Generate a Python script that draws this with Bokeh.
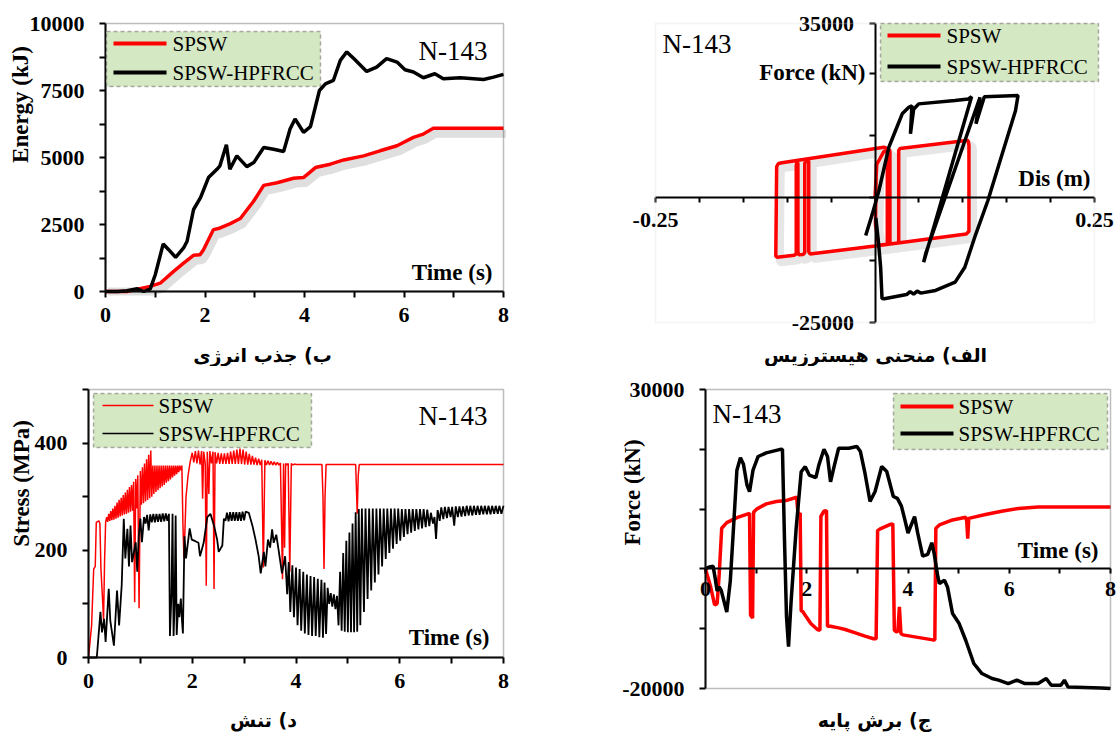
from math import pi
from bokeh.plotting import figure
from bokeh.models import Label, BoxAnnotation, FixedTicker, Range1d
from bokeh.layouts import row, column
from bokeh.embed import file_html
from bokeh.resources import INLINE

# ---------------- data ----------------
SERIES = ["SPSW", "SPSW-HPFRCC"]
TAG = "N-143"
CAPTIONS = ["ب) جذب انرژی", "الف) منحنی هیسترزیس", "د) تنش", "ج) برش پایه"]

# (time s, energy kJ)
energy_spsw = [(0.0, 0), (0.43, 0), (0.9, 190), (1.1, 310), (1.37, 750), (1.57, 1060), (1.77, 1350),
               (1.9, 1375), (1.97, 1560), (2.17, 2310), (2.27, 2350), (2.5, 2525), (2.71, 2725),
               (2.98, 3375), (3.18, 3960), (3.45, 4060), (3.78, 4225), (3.98, 4250), (4.22, 4625),
               (4.52, 4750), (4.79, 4910), (5.19, 5060), (5.52, 5250), (5.86, 5440), (6.19, 5750),
               (6.39, 5875), (6.59, 6090), (8.0, 6090)]
energy_hpfrcc = [(0.0, 0), (0.25, 0), (0.43, 25), (0.64, 100), (0.77, 0), (0.9, 100), (1.0, 625),
                 (1.16, 1775), (1.27, 1560), (1.41, 1275), (1.57, 1625), (1.64, 1875), (1.77, 3060),
                 (1.91, 3500), (2.07, 4250), (2.24, 4560), (2.3, 4690), (2.43, 5475), (2.5, 4560),
                 (2.64, 5060), (2.84, 4660), (2.98, 4810), (3.18, 5375), (3.38, 5310), (3.58, 5225),
                 (3.71, 6060), (3.81, 6440), (3.98, 5940), (4.12, 6150), (4.3, 7500), (4.42, 7750),
                 (4.58, 7875), (4.72, 8625), (4.85, 8940), (4.99, 8690), (5.25, 8210), (5.45, 8375),
                 (5.65, 8690), (5.86, 8560), (6.02, 8275), (6.19, 8190), (6.39, 7975), (6.62, 8125),
                 (6.79, 7940), (7.13, 7975), (7.6, 7910), (7.8, 8000), (8.0, 8100)]

# (displacement m, force kN)
hyst_spsw = [(0.000, 0), (0.002, 6700), (0.010, 9300), (0.0165, 9700), (0.017, 9200), (0.017, -9000),
             (0.0185, -9200), (0.0265, -9050), (0.027, -8500), (0.027, 9500), (0.0285, 9900),
             (0.104, 11500), (0.1063, 11450), (0.107, 10500), (0.107, -6700), (0.104, -7250),
             (0.000, -9650), (-0.074, -11250), (-0.0755, -10800), (-0.0755, 7400), (-0.077, 7600),
             (-0.080, 7000), (-0.080, -11000), (-0.082, -11350), (-0.087, -11400), (-0.0878, -10800),
             (-0.0878, 7000), (-0.089, 7100), (-0.0897, 6500), (-0.0897, -11200), (-0.092, -11500),
             (-0.1115, -11900), (-0.113, -11700), (-0.112, 6300), (-0.110, 6900), (-0.106, 7060),
             (0.0101, 10180), (0.013, 10000), (0.014, 9000), (0.014, -9300), (0.004, -9500),
             (0.0005, -5300), (0.0015, 6700), (0.0045, 7500)]
hyst_hpfrcc = [(-0.0106, -7550), (-0.003, -3200), (0.0045, 1490), (0.0158, 10180), (0.0234, 13530),
               (0.031, 16880), (0.0385, 18200), (0.042, 18500), (0.0404, 12860), (0.044, 17800),
               (0.0498, 18870), (0.0912, 19540), (0.1063, 19870), (0.110, 20300), (0.0554, -12900),
               (0.058, -11000), (0.1196, 20210), (0.115, 14900), (0.1245, 20300), (0.1629, 20550),
               (0.160, 17500), (0.1437, 8170), (0.1286, -520), (0.1136, -7880), (0.1023, -13900),
               (0.0913, -16900), (0.069, -18570), (0.052, -19100), (0.048, -18700), (0.044, -19300),
               (0.040, -18800), (0.036, -19400), (0.0106, -20240), (0.008, -20200), (0.0064, -13900),
               (0.004, -9000), (0.001, -4000)]

# (time s, stress MPa)
stress_spsw = [(0.00, 0), (0.06, 60), (0.10, 165), (0.13, 170), (0.15, 252), (0.20, 255), (0.22, 250),
               (0.24, 165), (0.27, 110), (0.29, 70), (0.31, 180), (0.33, 252),
               (0.35, 262), (0.37, 253), (0.39, 268), (0.41, 255), (0.43, 273), (0.45, 256), (0.47, 278),
               (0.49, 257), (0.51, 283), (0.53, 259), (0.55, 289), (0.57, 261), (0.59, 294), (0.61, 263),
               (0.63, 298), (0.65, 265), (0.67, 303), (0.69, 267), (0.71, 308), (0.73, 268), (0.75, 313),
               (0.77, 270), (0.79, 318), (0.81, 272), (0.83, 322), (0.85, 274), (0.87, 328), (0.89, 103),
               (0.91, 333), (0.93, 278), (0.95, 340), (0.975, 92), (1.00, 348), (1.02, 285), (1.04, 355),
               (1.06, 288), (1.08, 362), (1.10, 291), (1.12, 370), (1.14, 294), (1.16, 378), (1.18, 297),
               (1.20, 386), (1.22, 300),
               (1.24, 358), (1.26, 305), (1.28, 358), (1.30, 309), (1.32, 358), (1.34, 312), (1.36, 358),
               (1.38, 316), (1.40, 358), (1.42, 319), (1.44, 358), (1.46, 322), (1.48, 358), (1.50, 326),
               (1.52, 358), (1.54, 329), (1.56, 358), (1.58, 332), (1.60, 358), (1.62, 336), (1.64, 358),
               (1.66, 339), (1.68, 358), (1.70, 342), (1.72, 358), (1.74, 346), (1.76, 358), (1.78, 349),
               (1.80, 358), (1.82, 250), (1.84, 185), (1.86, 240), (1.88, 300), (1.92, 340), (1.96, 365),
               (2.00, 382),
               (2.03, 364), (2.06, 385), (2.09, 362), (2.12, 386), (2.15, 360), (2.18, 385), (2.20, 296),
               (2.22, 384), (2.25, 362), (2.27, 134), (2.29, 384), (2.32, 305), (2.34, 385), (2.37, 362),
               (2.40, 384), (2.42, 128), (2.44, 383), (2.47, 362), (2.50, 382), (2.53, 361), (2.56, 381),
               (2.59, 361), (2.62, 381), (2.65, 361), (2.68, 382), (2.71, 361), (2.74, 384), (2.77, 361),
               (2.80, 386), (2.83, 361), (2.86, 388), (2.89, 361), (2.92, 390), (2.95, 361), (2.98, 388),
               (3.01, 360), (3.04, 384), (3.07, 360), (3.10, 380), (3.13, 360), (3.16, 376), (3.19, 360),
               (3.22, 373), (3.25, 359), (3.28, 371), (3.31, 359), (3.34, 369), (3.37, 168), (3.40, 368),
               (3.43, 359), (3.46, 367), (3.49, 359), (3.52, 366), (3.55, 359), (3.58, 365), (3.61, 359),
               (3.64, 364), (3.67, 359), (3.70, 363), (3.74, 146), (3.76, 362), (3.78, 205), (3.80, 362),
               (3.83, 359), (3.85, 362), (3.88, 160), (3.91, 362), (3.94, 359), (3.97, 361), (4.00, 360),
               (4.50, 360), (4.52, 300), (4.54, 165), (4.56, 300), (4.58, 360), (5.15, 360), (5.17, 300),
               (5.18, 268), (5.20, 340), (5.22, 360), (8.00, 360)]
stress_hpfrcc = [(0.00, 0), (0.16, 0), (0.23, 85), (0.26, 47), (0.30, 72), (0.33, 29), (0.39, 128),
                 (0.42, 69), (0.49, 22), (0.55, 125), (0.59, 60), (0.64, 135), (0.68, 259), (0.71, 185),
                 (0.75, 240), (0.78, 170), (0.81, 246), (0.84, 178), (0.91, 215), (0.94, 160), (0.97, 227),
                 (1.00, 259), (1.03, 215), (1.07, 262),
                 (1.10, 250), (1.13, 266), (1.16, 237), (1.19, 267), (1.22, 252), (1.25, 268), (1.28, 252),
                 (1.31, 268), (1.34, 253), (1.37, 268), (1.40, 253), (1.43, 269), (1.46, 254), (1.49, 269),
                 (1.52, 255), (1.55, 268),
                 (1.57, 40), (1.60, 120), (1.62, 268), (1.64, 40), (1.66, 100), (1.68, 265), (1.70, 42),
                 (1.73, 100), (1.75, 75), (1.78, 110), (1.80, 72), (1.82, 45), (1.85, 226), (1.88, 185),
                 (1.95, 241), (1.99, 220), (2.06, 217), (2.12, 214), (2.15, 189), (2.22, 214), (2.29, 262),
                 (2.35, 268), (2.42, 246), (2.48, 220), (2.51, 197), (2.58, 209), (2.61, 259),
                 (2.64, 255), (2.67, 270), (2.70, 254), (2.73, 271), (2.76, 255), (2.79, 271), (2.82, 255),
                 (2.85, 271), (2.88, 255), (2.91, 271), (2.94, 255), (2.97, 272), (3.00, 256), (3.03, 272),
                 (3.09, 270),
                 (3.16, 246), (3.22, 220), (3.28, 189), (3.32, 157), (3.38, 197), (3.41, 170), (3.46, 220),
                 (3.50, 205), (3.54, 239), (3.57, 214), (3.62, 229), (3.67, 197), (3.73, 157), (3.79, 189),
                 (3.83, 118),
                 (3.86, 178), (3.89, 85), (3.93, 172), (3.96, 75), (4.00, 168), (4.03, 60), (4.07, 165),
                 (4.10, 50), (4.14, 160), (4.17, 45), (4.21, 155), (4.24, 42), (4.28, 152), (4.31, 40),
                 (4.35, 150), (4.38, 40), (4.42, 147), (4.45, 38), (4.49, 145), (4.52, 37), (4.55, 140),
                 (4.58, 44),
                 (4.61, 130), (4.64, 100), (4.67, 120), (4.70, 95), (4.73, 118), (4.76, 90), (4.79, 115),
                 (4.82, 60), (4.85, 160), (4.88, 50), (4.91, 195), (4.94, 48), (4.97, 218), (5.00, 47),
                 (5.03, 233), (5.06, 47), (5.09, 250), (5.12, 47), (5.15, 271), (5.18, 48), (5.21, 277),
                 (5.24, 60), (5.27, 278), (5.31, 85), (5.34, 278), (5.38, 109), (5.41, 278), (5.45, 125),
                 (5.48, 278), (5.52, 140), (5.55, 278), (5.59, 155), (5.62, 278), (5.66, 170), (5.69, 278),
                 (5.73, 184), (5.76, 278), (5.80, 195), (5.83, 278), (5.87, 203), (5.90, 278), (5.94, 212),
                 (5.97, 278), (6.01, 218), (6.04, 277), (6.08, 225), (6.11, 277), (6.15, 230), (6.18, 277),
                 (6.22, 233), (6.25, 277), (6.29, 236), (6.32, 277), (6.36, 239), (6.39, 277), (6.43, 241),
                 (6.46, 277), (6.50, 243), (6.53, 276), (6.57, 245), (6.60, 270), (6.64, 250), (6.67, 262),
                 (6.70, 221), (6.73, 275), (6.77, 255), (6.80, 280), (6.84, 258), (6.87, 281), (6.91, 260),
                 (6.94, 281), (6.98, 262), (7.01, 281), (7.05, 246), (7.08, 282), (7.12, 262), (7.15, 282),
                 (7.19, 263), (7.22, 282), (7.26, 264), (7.29, 283), (7.33, 265), (7.36, 283), (7.40, 265),
                 (7.43, 283), (7.47, 266), (7.50, 283), (7.54, 266), (7.57, 283), (7.61, 267), (7.64, 283),
                 (7.68, 267), (7.71, 283), (7.75, 267), (7.78, 283), (7.82, 268), (7.85, 283), (7.89, 268),
                 (7.92, 283), (7.96, 268), (8.00, 283)]

# (time s, base shear kN)
shear_spsw = [(0.00, 0), (0.10, -2950), (0.18, -6020), (0.23, -5800), (0.27, -1000), (0.32, 6800),
              (0.42, 7740), (0.62, 8580), (0.87, 9300), (0.89, -7700), (0.93, -8240), (0.95, 9470),
              (1.01, 10000), (1.20, 10870), (1.40, 11260), (1.59, 11430), (1.80, 11980), (1.83, 9000),
              (1.87, 9360), (1.89, -7000), (1.92, -7130), (1.99, -8020), (2.08, -9130), (2.21, -10130),
              (2.26, -10250), (2.28, 8800), (2.34, 9640), (2.39, 9750), (2.41, -9580), (2.47, -9580),
              (2.63, -9860), (2.76, -10130), (2.96, -10690), (3.15, -11250), (3.32, -11680),
              (3.37, -11700), (3.40, 6400), (3.45, 6700), (3.64, 7420), (3.70, 7530), (3.73, -10250),
              (3.77, -10530), (3.80, -10400), (3.83, -6360), (3.86, -10800), (3.90, -11030),
              (4.49, -11870), (4.53, -11900), (4.55, 6800), (4.62, 7350), (4.88, 8190), (5.14, 8640),
              (5.16, 8000), (5.18, 5070), (5.20, 8450), (5.53, 9100), (5.85, 9650), (6.18, 10100),
              (6.57, 10370), (8.00, 10370)]
shear_hpfrcc = [(0.00, 0), (0.06, 290), (0.15, 460), (0.19, -1500), (0.23, -3700), (0.27, -3000),
                (0.31, -3600), (0.42, -7200), (0.49, -2000), (0.55, 6400), (0.62, 16500), (0.69, 18600),
                (0.75, 17500), (0.82, 14000), (0.87, 12920), (0.94, 16570), (1.04, 18800), (1.20, 19400),
                (1.46, 19950), (1.52, 20000), (1.56, 5000), (1.60, -8000), (1.64, -13000), (1.69, -5550),
                (1.79, 6690), (1.89, 16250), (1.97, 17100), (2.05, 15700), (2.18, 15250), (2.24, 17400),
                (2.34, 20000), (2.41, 18800), (2.47, 14570), (2.54, 17100), (2.63, 20180), (2.83, 20180),
                (2.99, 20460), (3.06, 19620), (3.15, 16000), (3.25, 11280), (3.35, 12950), (3.48, 17120),
                (3.58, 16290), (3.71, 12110), (3.79, 11800), (3.87, 10500), (3.93, 8500), (4.00, 6000),
                (4.13, 8740), (4.19, 6060), (4.29, 2150), (4.39, 2430), (4.47, 4380), (4.52, 2430),
                (4.59, -1340), (4.62, -2450), (4.72, -1900), (4.78, -3010), (4.88, -7470), (5.01, -9140),
                (5.14, -11930), (5.30, -15820), (5.46, -17500), (5.66, -18330), (5.79, -18600),
                (5.98, -19170), (6.15, -18600), (6.31, -19170), (6.57, -19170), (6.73, -18330),
                (6.83, -19450), (7.02, -19450), (7.09, -18600), (7.16, -19730), (7.81, -19900),
                (8.00, -20000)]

# ---------------- styling ----------------
SERIF = "Liberation Serif"
ARABIC = "DejaVu Sans"
RED = "#ff0000"
BLACK = "#000000"
LEG_FILL = "#d5e8c4"
FRAME_DARK = "#262626"
FRAME_LIGHT = "#d9d9d9"
SHADOW = "#8c8c8c"


def xy(pairs):
    return [a for a, _ in pairs], [b for _, b in pairs]


def make_fig(W, H, rect, xext, yext):
    """Whole canvas is the Bokeh frame; the data box sits at pixel rect (l, t, r, b)."""
    l, t, r, b = rect
    x0, x1 = xext
    y0, y1 = yext
    kx = (x1 - x0) / (r - l)
    ky = (y1 - y0) / (b - t)
    p = figure(width=W, height=H,
               x_range=Range1d(x0 - l * kx, x1 + (W - r) * kx),
               y_range=Range1d(y0 - (H - b) * ky, y1 + t * ky),
               output_backend="svg", toolbar_location=None, min_border=0)
    p.grid.visible = False
    p.outline_line_color = None
    p.background_fill_color = "white"
    p.border_fill_color = "white"
    return p


def frame_box(p, xext, yext, color):
    p.add_layout(BoxAnnotation(left=xext[0], right=xext[1], bottom=yext[0], top=yext[1],
                               fill_color=None, fill_alpha=0, line_color=color, line_width=1.5))


def style_axis(ax, at, bounds, major, minor, standoff, tick=6):
    ax.fixed_location = at
    ax.bounds = bounds
    ax.ticker = FixedTicker(ticks=major, minor_ticks=minor)
    # plain hyphen-minus for negative tick labels, as in the source chart
    ax.major_label_overrides = {v: f"{v:g}" for v in major if v < 0}
    ax.axis_line_color = "black"
    ax.axis_line_width = 2
    ax.major_tick_line_color = "black"
    ax.major_tick_line_width = 2
    ax.minor_tick_line_color = "black"
    ax.minor_tick_line_width = 2
    ax.major_tick_in = 0
    ax.major_tick_out = tick
    ax.minor_tick_in = 0
    ax.minor_tick_out = tick
    ax.major_label_standoff = standoff
    ax.major_label_text_font = SERIF
    ax.major_label_text_font_style = "bold"
    ax.major_label_text_font_size = "22px"
    ax.major_label_text_color = "black"


def txt(p, x, y, text, size, bold=False, font=SERIF, align="left", angle=0.0):
    # x, y measured in canvas pixels from the top-left corner
    p.add_layout(Label(x=x, y=p.height - y, x_units="screen", y_units="screen", text=text,
                       text_font=font, text_font_size=f"{size}px",
                       text_font_style="bold" if bold else "normal",
                       text_align=align, text_baseline="middle", angle=angle,
                       text_color="black"))


def sbox(p, l, r, t, b, **kw):
    p.add_layout(BoxAnnotation(left=l, right=r, top=p.height - t, bottom=p.height - b,
                               left_units="screen", right_units="screen",
                               top_units="screen", bottom_units="screen", **kw))


def legend(p, l, t, r, b, rows_y, lw, line_x, text_x):
    sbox(p, l, r, t, b, fill_color=LEG_FILL, fill_alpha=1.0,
         line_color="black", line_width=1.5, line_dash="4 3")
    for yrow, color, name in zip(rows_y, [RED, BLACK], SERIES):
        sbox(p, line_x[0], line_x[1], yrow - lw / 2, yrow + lw / 2,
             fill_color=color, fill_alpha=1.0, line_color=None)
        txt(p, text_x, yrow, name, 21)


W_L, W_R, H_ROW = 550, 566, 366
CAP_SIZE = 19

# ---------------- panel 1: energy ----------------
X1, Y1 = (0, 8), (0, 10000)
p1 = make_fig(W_L, H_ROW, (105, 23, 503, 291), X1, Y1)
frame_box(p1, X1, Y1, FRAME_DARK)
style_axis(p1.xaxis[0], 0, X1, [0, 2, 4, 6, 8], [1, 3, 5, 7], 10)
style_axis(p1.yaxis[0], 0, Y1, [0, 2500, 5000, 7500, 10000], [1250, 3750, 6250, 8750], 15)
t, e = xy(energy_spsw)
p1.line([v + 0.05 for v in t], [max(v - 200, 0) for v in e], line_color=SHADOW,
        line_alpha=0.28, line_width=8)
p1.line(t, e, line_color=RED, line_width=3.5)
t, e = xy(energy_hpfrcc)
p1.line(t, e, line_color=BLACK, line_width=3.5)
legend(p1, 106, 31, 320, 86, [43, 72], 4, (113, 166), 172)
txt(p1, 418, 50, TAG, 27)
txt(p1, 492, 272, "Time (s)", 23, bold=True, align="right")
txt(p1, 20, 104, "Energy (kJ)", 23, bold=True, align="center", angle=pi / 2)
txt(p1, 262, 354, CAPTIONS[0], CAP_SIZE, bold=True, font=ARABIC, align="center")

# ---------------- panel 2: hysteresis ----------------
X2, Y2 = (-0.25, 0.25), (-25000, 35000)
p2 = make_fig(W_R, H_ROW, (105, 23, 544, 322), X2, Y2)
frame_box(p2, X2, Y2, FRAME_LIGHT)
style_axis(p2.xaxis[0], 0, X2, [-0.25, 0.25], [-0.2, -0.15, -0.1, -0.05, 0, 0.05, 0.1, 0.15, 0.2], 10, tick=5)
style_axis(p2.yaxis[0], 0, Y2, [-25000, 35000], [-12500, 0, 12500, 25000], 15)
d, f = xy(hyst_spsw)
p2.line([v + 0.0046 for v in d], [v - 1000 for v in f], line_color=SHADOW, line_alpha=0.22, line_width=8)
p2.line(d, f, line_color=RED, line_width=3.5)
d, f = xy(hyst_hpfrcc)
p2.line(d, f, line_color=BLACK, line_width=3.5)
legend(p2, 330, 23, 548, 81, [35, 66], 4, (337, 390), 396)
txt(p2, 112, 43, TAG, 27)
txt(p2, 315, 72, "Force (kN)", 23, bold=True, align="right")
txt(p2, 540, 178, "Dis (m)", 23, bold=True, align="right")
txt(p2, 325, 354, CAPTIONS[1], CAP_SIZE, bold=True, font=ARABIC, align="center")

# ---------------- panel 3: stress ----------------
X3, Y3 = (0, 8), (0, 500)
p3 = make_fig(W_L, H_ROW, (88, 23, 503, 291), X3, Y3)
frame_box(p3, X3, Y3, FRAME_DARK)
style_axis(p3.xaxis[0], 0, X3, [0, 2, 4, 6, 8], [1, 3, 5, 7], 10)
style_axis(p3.yaxis[0], 0, Y3, [0, 200, 400], [100, 300, 500], 15)
t, s = xy(stress_spsw)
p3.line(t, s, line_color=RED, line_width=1.5)
t, s = xy(stress_hpfrcc)
p3.line(t, s, line_color=BLACK, line_width=1.8)
legend(p3, 93, 27, 311, 81, [39, 67], 1.5, (102, 153), 158)
txt(p3, 418, 49, TAG, 27)
txt(p3, 489, 271, "Time (s)", 23, bold=True, align="right")
txt(p3, 21, 117, "Stress (MPa)", 23, bold=True, align="center", angle=pi / 2)
txt(p3, 263, 353, CAPTIONS[2], CAP_SIZE, bold=True, font=ARABIC, align="center")

# ---------------- panel 4: base shear ----------------
X4, Y4 = (0, 8), (-20000, 30000)
p4 = make_fig(W_R, H_ROW, (155, 23, 560, 322), X4, Y4)
frame_box(p4, X4, Y4, FRAME_DARK)
style_axis(p4.xaxis[0], 0, X4, [0, 2, 4, 6, 8], [1, 3, 5, 7], 8, tick=5)
style_axis(p4.yaxis[0], 0, Y4, [-20000, 30000], [-10000, 0, 10000, 20000], 15)
t, v = xy(shear_spsw)
p4.line(t, v, line_color=RED, line_width=3.5)
t, v = xy(shear_hpfrcc)
p4.line(t, v, line_color=BLACK, line_width=3.5)
legend(p4, 343, 27, 557, 83, [40, 67], 4, (350, 403), 408)
txt(p4, 162, 47, TAG, 27)
txt(p4, 548, 184, "Time (s)", 23, bold=True, align="right")
txt(p4, 82, 126, "Force (kN)", 23, bold=True, align="center", angle=pi / 2)
txt(p4, 324, 353, CAPTIONS[3], CAP_SIZE, bold=True, font=ARABIC, align="center")

layout = column(row(p1, p2), row(p3, p4))
open("out.html", "w").write(file_html(layout, INLINE, title="N-143"))
